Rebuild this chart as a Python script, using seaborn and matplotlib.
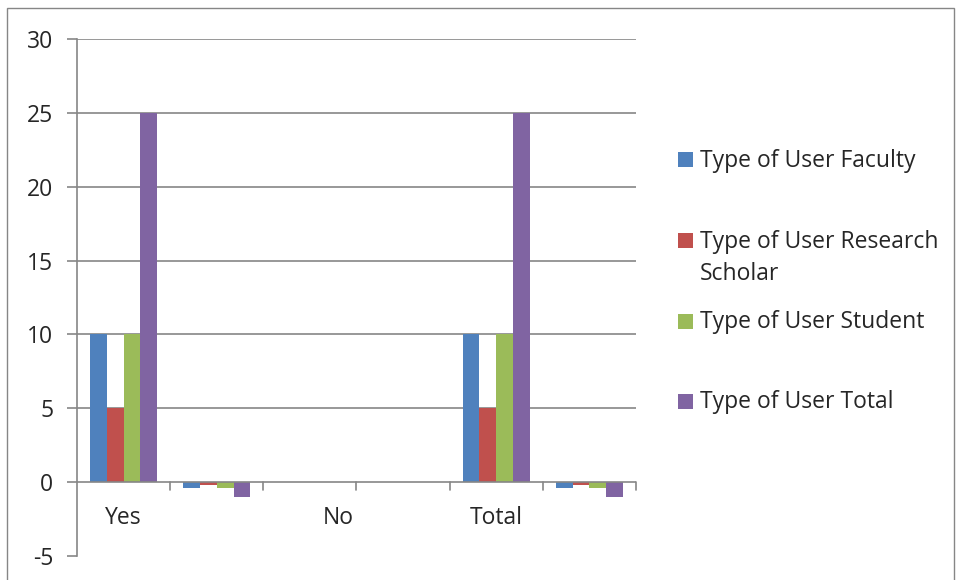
import pandas as pd
import matplotlib
matplotlib.use("Agg")
import matplotlib.pyplot as plt
from matplotlib.patches import Rectangle
import seaborn as sns

# chart data
slots = ["Yes", "blank1", "No", "blank2", "Total", "blank3"]
faculty = [10, -0.4, 0, 0, 10, -0.4]
research = [5, -0.2, 0, 0, 5, -0.2]
student = [10, -0.4, 0, 0, 10, -0.4]
total = [25, -1, 0, 0, 25, -1]
series_names = ["Type of User Faculty", "Type of User Research Scholar",
                "Type of User Student", "Type of User Total"]
legend_labels = ["Type of User Faculty", "Type of User Research\nScholar",
                 "Type of User Student", "Type of User Total"]
x_labels = ["Yes", "No", "Total"]
x_label_pos = [0, 2.3, 4]
colors = ["#4F81BD", "#C0504D", "#9BBB59", "#8064A2"]

rows = []
for name, vals in zip(series_names, [faculty, research, student, total]):
    for s, v in zip(slots, vals):
        rows.append({"slot": s, "value": v, "series": name})
df = pd.DataFrame(rows)

sns.set_style("white")
plt.rcParams["font.family"] = ["Open Sans", "DejaVu Sans"]
plt.rcParams["axes.unicode_minus"] = False
grey = "#868686"
fs = 16.5

fig = plt.figure(figsize=(9.56, 5.8), dpi=100)
ax = fig.add_axes([77 / 956, 1 - 556 / 580, (636 - 77) / 956, (556 - 39) / 580])

sns.barplot(data=df, x="slot", y="value", hue="series", order=slots,
            hue_order=series_names, palette=colors, width=0.72,
            linewidth=0, saturation=1, legend=False, ax=ax)

ax.set_xlim(-0.5, 5.5)
ax.set_ylim(-5, 30)
ax.set_yticks(range(-5, 31, 5))
ax.hlines(range(5, 31, 5), -0.5, 5.5, color=grey, lw=1.2, zorder=0)
ax.axhline(0, color=grey, lw=1.2, zorder=3)

# category labels sit under the zero line
ax.set_xticks([])
for lab, x in zip(x_labels, x_label_pos):
    ax.text(x, -2.45, lab, fontsize=fs, ha="center", va="center")
for b in [i - 0.5 for i in range(1, 7)]:
    ax.plot([b, b], [0, -0.55], color=grey, lw=1.2, clip_on=False, zorder=3)
ax.tick_params(axis="y", length=7, color=grey, width=1.2, pad=10, labelsize=fs, left=True)
ax.set_xlabel("")
ax.set_ylabel("")

for side in ["top", "right", "bottom"]:
    ax.spines[side].set_visible(False)
ax.spines["left"].set_color(grey)
ax.spines["left"].set_linewidth(1.2)

# legend drawn by hand so the wrapped label keeps its marker on the first line
leg_y = [160, 241, 321, 401]
for c, lab, y in zip(colors, legend_labels, leg_y):
    fig.add_artist(Rectangle((678 / 956, 1 - (y + 7.5) / 580), 15 / 956, 15 / 580,
                             transform=fig.transFigure, color=c, lw=0))
    for k, line in enumerate(lab.split("\n")):
        fig.text(700 / 956, 1 - (y + 7.5 + 31 * k) / 580, line, fontsize=fs,
                 va="baseline", ha="left")

# chart area border
fig.add_artist(Rectangle((7 / 956, -0.02), 947 / 956, 1.02 - 8 / 580,
                         transform=fig.transFigure, fill=False, edgecolor=grey, lw=1))

fig.savefig("out.png", dpi=100)
